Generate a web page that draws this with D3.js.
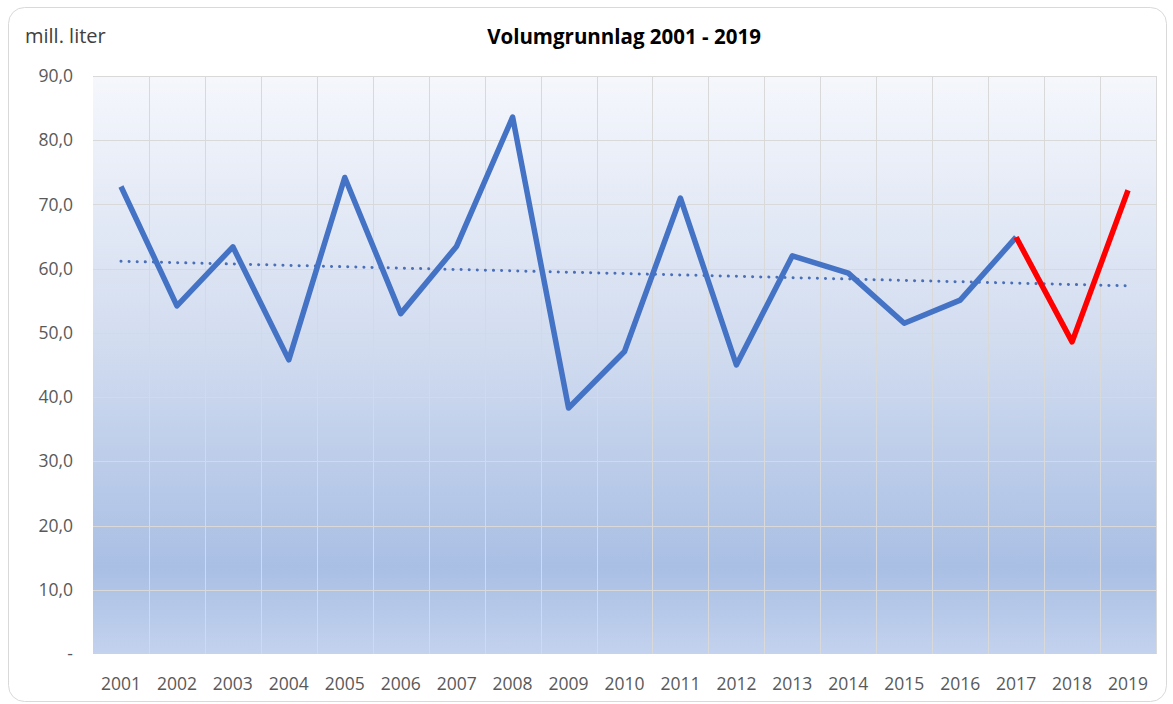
<!DOCTYPE html>
<html>
<head>
<meta charset="utf-8">
<script src="https://cdn.jsdelivr.net/npm/d3@7"></script>
<style>
  body { margin: 0; background: #fff; }
  svg { display: block; font-family: "Open Sans", "Noto Sans", sans-serif; }
</style>
</head>
<body>
<div id="chart"></div>
<script>
// data
const years = ["2001","2002","2003","2004","2005","2006","2007","2008","2009","2010",
               "2011","2012","2013","2014","2015","2016","2017","2018","2019"];
const volume = [72.8, 54.2, 63.4, 45.8, 74.2, 53.0, 63.5, 83.6, 38.3, 47.1,
                71.0, 45.0, 62.0, 59.3, 51.5, 55.1, 64.9, 48.6, 72.2];
const highlightFrom = "2017"; // red part of the line
const yTicks = [0, 10, 20, 30, 40, 50, 60, 70, 80, 90];

const W = 1173, H = 704;
const margin = { top: 76, right: 17, bottom: 50, left: 93 };
const width = W - margin.left - margin.right;
const height = H - margin.top - margin.bottom;

const svg = d3.select("#chart").append("svg")
  .attr("width", W).attr("height", H);

// chart frame
svg.append("rect")
  .attr("x", 8.5).attr("y", 7.5)
  .attr("width", W - 15).attr("height", H - 10)
  .attr("rx", 16)
  .attr("fill", "#fff")
  .attr("stroke", "#d9d9d9");

// plot area gradient
const grad = svg.append("defs").append("linearGradient")
  .attr("id", "bg").attr("x1", 0).attr("y1", 0).attr("x2", 0).attr("y2", 1);
grad.append("stop").attr("offset", "0%").attr("stop-color", "#f5f7fc");
grad.append("stop").attr("offset", "45%").attr("stop-color", "#d3ddf0");
grad.append("stop").attr("offset", "85%").attr("stop-color", "#a9bfe4");
grad.append("stop").attr("offset", "100%").attr("stop-color", "#c3d2ee");

const g = svg.append("g").attr("transform", `translate(${margin.left},${margin.top})`);

const x = d3.scaleBand().domain(years).range([0, width]).padding(0);
const y = d3.scaleLinear().domain([0, 90]).range([height, 0]);
const cx = d => x(d) + x.bandwidth() / 2;

g.append("rect")
  .attr("width", width).attr("height", height)
  .attr("fill", "url(#bg)");

// gridlines
g.selectAll(".hgrid").data(yTicks.slice(1))
  .enter().append("line")
  .attr("x1", 0).attr("x2", width)
  .attr("y1", d => Math.round(y(d)) + 0.5).attr("y2", d => Math.round(y(d)) + 0.5)
  .attr("stroke", "#d9d9d9");

g.selectAll(".vgrid").data(years.slice(1).concat(["end"]))
  .enter().append("line")
  .attr("x1", (d, i) => Math.round(i < years.length - 1 ? x(d) : width) + 0.5)
  .attr("x2", (d, i) => Math.round(i < years.length - 1 ? x(d) : width) + 0.5)
  .attr("y1", 0).attr("y2", height)
  .attr("stroke", "#d9d9d9");

// y labels
const fmt = v => v === 0 ? "-" : d3.format(".1f")(v).replace(".", ",");
g.selectAll(".ylab").data(yTicks)
  .enter().append("text")
  .attr("x", -20)
  .attr("y", d => y(d))
  .attr("dy", "0.35em")
  .attr("text-anchor", "end")
  .attr("font-size", 17.5)
  .attr("fill", "#595959")
  .text(fmt);

// x labels
g.selectAll(".xlab").data(years)
  .enter().append("text")
  .attr("x", d => cx(d))
  .attr("y", height + 36)
  .attr("text-anchor", "middle")
  .attr("font-size", 17.5)
  .attr("fill", "#595959")
  .text(d => d);

// linear trend (least squares, as the spreadsheet does)
const idx = years.map((d, i) => i);
const mx = d3.mean(idx), my = d3.mean(volume);
const slope = d3.sum(idx, i => (i - mx) * (volume[i] - my)) / d3.sum(idx, i => (i - mx) ** 2);
const trendAt = i => my + slope * (i - mx);

g.append("line")
  .attr("x1", cx(years[0])).attr("y1", y(trendAt(0)))
  .attr("x2", cx(years[years.length - 1])).attr("y2", y(trendAt(years.length - 1)))
  .attr("stroke", "#4a6fb8")
  .attr("stroke-width", 3)
  .attr("stroke-linecap", "round")
  .attr("stroke-dasharray", "0.1 8");

// main series
const data = years.map((d, i) => ({ year: d, v: volume[i] }));
const cut = years.indexOf(highlightFrom);
const line = d3.line().x(d => cx(d.year)).y(d => y(d.v));

g.append("path")
  .datum(data.slice(0, cut + 1))
  .attr("d", line)
  .attr("fill", "none")
  .attr("stroke", "#4472c4")
  .attr("stroke-width", 5.5)
  .attr("stroke-linejoin", "round");

g.append("path")
  .datum(data.slice(cut))
  .attr("d", line)
  .attr("fill", "none")
  .attr("stroke", "#ff0000")
  .attr("stroke-width", 5.5)
  .attr("stroke-linejoin", "round");

// titles
svg.append("text")
  .attr("x", 624).attr("y", 44)
  .attr("text-anchor", "middle")
  .attr("font-size", 20.5)
  .attr("font-weight", "bold")
  .attr("fill", "#000")
  .text("Volumgrunnlag 2001 - 2019");

svg.append("text")
  .attr("x", 25).attr("y", 43)
  .attr("font-size", 20)
  .attr("fill", "#404040")
  .text("mill. liter");
</script>
</body>
</html>
